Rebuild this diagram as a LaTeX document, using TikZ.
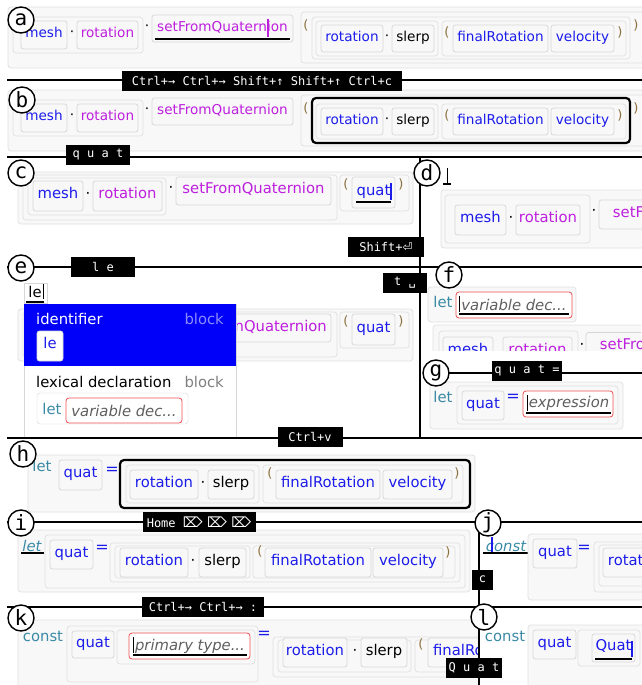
\documentclass[tikz,border=0pt]{standalone}
\usepackage{fontspec}
\setmainfont{DejaVu Sans}
\newfontfamily\keyfont{DejaVu Sans Mono}
\newfontfamily\symfont{DejaVu Sans}
\definecolor{idblue}{RGB}{28,28,235}
\definecolor{propmag}{RGB}{190,30,222}
\definecolor{kwteal}{RGB}{58,138,165}
\definecolor{parbrown}{RGB}{140,112,62}
\definecolor{tokline}{RGB}{214,214,214}
\definecolor{tokfill}{RGB}{248,248,248}
\definecolor{grpline}{RGB}{224,224,224}
\definecolor{phgrey}{RGB}{95,95,95}
\definecolor{holered}{RGB}{240,80,80}
\definecolor{popblue}{RGB}{0,0,250}
\definecolor{popdim}{RGB}{140,140,255}
\newcommand{\codeA}{\fontsize{13.6}{16}\selectfont}
\newcommand{\codeB}{\fontsize{14.8}{17}\selectfont}
\newcommand{\parfont}{\fontsize{13}{14}\selectfont}
\tikzset{
  tok/.style 2 args={draw=tokline, fill=tokfill, rounded corners=2.5, line width=.7, inner sep=0,
    minimum width=#1, minimum height=#2, text height=.75em, text depth=.22em},
  grp/.style={draw=grpline, fill=tokfill, rounded corners=3, line width=.7},
  hole/.style={draw=holered, fill=white, rounded corners=3, line width=.8},
  sel/.style={draw=black, fill=tokfill, line width=2.2, rounded corners=4},
  keylbl/.style={fill=black, text=white, font=\keyfont\fontsize{12}{14}\selectfont, inner sep=0, minimum height=20},
  stage/.style={circle, draw=black, fill=white, line width=1.4, minimum size=26, inner sep=0,
    font=\keyfont\fontsize{21}{21}\selectfont},
  divider/.style={line width=1.8},
  paren/.style={text=parbrown, font=\parfont, inner sep=0},
  midot/.style={inner sep=0},
  caretline/.style={line width=2},
  kw/.style={text=kwteal, inner sep=0},
  ph/.style={text=phgrey, font=\codeB\itshape, inner sep=0},
  eqsign/.style={text=idblue, inner sep=0, font=\fontsize{16}{17}\selectfont}
}
\begin{document}
\begin{tikzpicture}[x=1pt,y=-1pt]
\useasboundingbox[fill=white] (0,0) rectangle (642,685);

\begin{scope}[font=\codeA]
  \draw[grp] (8,7) rectangle (650,68);
  \draw[grp] (13,17) rectangle (143,53);
  \node[tok={46}{28}, text=idblue] (amesh) at (44,35) {mesh};
  \node[midot] (adota) at (72,34) {·};
  \node[tok={61}{28}, text=propmag] (arot) at (107.5,35) {rotation};
  \node[midot] (adotb) at (147,28) {·};
  \node[tok={141}{27}, text=propmag] (aset) at (222.5,28.5) {setFromQuaternion};
  \draw[caretline] (155,39) -- (290,39);
  \draw[propmag, line width=1.2] (268,19) -- (268,37);
  \draw[grp] (301,12) rectangle (650,63);
  \node[paren] (aopen) at (306,25) {(};
  \draw[grp] (312,17) rectangle (630,59);
  \draw[grp] (316,21) rectangle (438,56);
  \node[tok={62}{27}, text=idblue] (arotb) at (352,38.5) {rotation};
  \node[midot] (adotc) at (387,38) {·};
  \node[tok={42}{27}] (aslerp) at (413,38.5) {slerp};
  \draw[grp] (442,21) rectangle (626,56);
  \node[paren] (aopenb) at (447,32) {(};
  \node[tok={95}{27}, text=idblue] (afinal) at (500.5,38.5) {finalRotation};
  \node[tok={63}{27}, text=idblue] (avel) at (582.5,38.5) {velocity};
  \node[paren] (aclose) at (620,32) {)};
  \node[paren] (aclosb) at (636,25) {)};
\end{scope}

\begin{scope}[font=\codeA]
  \draw[grp] (8,90) rectangle (650,151);
  \draw[grp] (13,100) rectangle (143,136);
  \node[tok={46}{28}, text=idblue] (bmesh) at (44,118) {mesh};
  \node[midot] (bdota) at (72,117) {·};
  \node[tok={61}{28}, text=propmag] (brot) at (107.5,118) {rotation};
  \node[midot] (bdotb) at (147,111) {·};
  \node[tok={141}{27}, text=propmag] (bset) at (222.5,111.5) {setFromQuaternion};
  \draw[grp] (301,95) rectangle (650,146);
  \node[paren] (bopen) at (306,108) {(};
  \draw[sel] (312,98) rectangle (630,143);
  \draw[grp] (316,104) rectangle (438,139);
  \node[tok={62}{27}, text=idblue] (brotb) at (352,121.5) {rotation};
  \node[midot] (bdotc) at (387,121) {·};
  \node[tok={42}{27}] (bslerp) at (413,121.5) {slerp};
  \draw[grp] (442,104) rectangle (626,139);
  \node[paren] (bopenb) at (447,115) {(};
  \node[tok={95}{27}, text=idblue] (bfinal) at (500.5,121.5) {finalRotation};
  \node[tok={63}{27}, text=idblue] (bvel) at (582.5,121.5) {velocity};
  \node[paren] (bclose) at (620,115) {)};
  \node[paren] (bclosb) at (636,108) {)};
\end{scope}

\begin{scope}[font=\codeB]
  \draw[grp] (18,172) rectangle (413,224);
  \draw[grp] (23,175) rectangle (337,220);
  \draw[grp] (28,178) rectangle (166,215);
  \node[tok={50}{30}, text=idblue] (cmesh) at (58,196) {mesh};
  \node[midot] (cdota) at (88,195) {·};
  \node[tok={69}{30}, text=propmag] (crot) at (127.5,196) {rotation};
  \node[midot] (cdotb) at (171,189) {·};
  \node[tok={155}{28}, text=propmag] (cset) at (253.5,191) {setFromQuaternion};
  \draw[grp] (340,175) rectangle (409,211);
  \node[paren] (copen) at (346,184) {(};
  \node[tok={43}{31}, text=idblue] (cquat) at (373.5,192.5) {quat};
  \draw[caretline] (356,202) -- (391,202);
  \draw[idblue, line width=1.2] (391,183) -- (391,200);
  \node[paren] (cclose) at (401,184) {)};
\end{scope}

\begin{scope}[font=\codeB]
  \draw[line width=1] (447,168) -- (447,183);
  \draw[line width=2] (443,184) -- (451,184);
  \draw[grp] (441,190) rectangle (650,248);
  \draw[grp] (445,195) rectangle (590,243);
  \node[tok={51}{30}, text=idblue] (dmesh) at (480.5,220) {mesh};
  \node[midot] (ddota) at (511,219) {·};
  \node[tok={64}{30}, text=propmag] (drot) at (548,220) {rotation};
  \node[midot] (ddotb) at (594,212) {·};
  \node[tok={170}{29}, text=propmag] (dset) at (684,214.5) {setFromQuaternion};
\end{scope}

\begin{scope}[font=\codeB]
  \draw[grp] (18,309) rectangle (413,361);
  \draw[grp] (23,312) rectangle (337,357);
  \draw[draw=tokline, fill=tokfill, rounded corners=2.5, line width=.7] (176,314) rectangle (331,342);
  \node[anchor=east, text=propmag, inner sep=0] (eset) at (327,327) {nQuaternion};
  \draw[grp] (340,312) rectangle (409,348);
  \node[paren] (eopen) at (346,321) {(};
  \node[tok={43}{31}, text=idblue] (equat) at (373.5,329.5) {quat};
  \node[paren] (eclose) at (401,321) {)};
  \draw[draw=tokline, fill=white] (24,283) rectangle (47,303);
  \node[inner sep=0] (ele) at (35,292) {le};
  \draw[caretline] (26,302) -- (44,302);
  \draw[line width=.8] (43,284) -- (43,299);
  \draw[draw=tokline, fill=white] (24,304) rectangle (236,437);
  \fill[popblue] (24,304) rectangle (236,366);
  \node[anchor=west, text=white, inner sep=0] (eident) at (36,319) {identifier};
  \node[anchor=east, text=popdim, inner sep=0] (eblocka) at (224,319) {block};
  \node[tok={26}{30}, fill=white, text=idblue] (eletok) at (50,346) {le};
  \node[anchor=west, inner sep=0] (elex) at (36,382) {lexical declaration};
  \node[anchor=east, text=gray, inner sep=0] (eblockb) at (224,382) {block};
  \draw[draw=tokline, fill=white, rounded corners=3] (37,393) rectangle (188,424);
  \node[kw] (elet) at (52,409) {let};
  \draw[hole] (66,398) rectangle (182,423);
  \node[ph] (evar) at (124,411) {variable dec...};
\end{scope}

\begin{scope}[font=\codeB]
  \draw[grp] (428,287) rectangle (576,322);
  \node[kw] (flet) at (443,302) {let};
  \draw[hole] (456,292) rectangle (572,318);
  \node[ph] (fvar) at (514,305) {variable dec...};
  \draw[caretline] (459,314) -- (569,314);
  \draw[line width=.8] (459,296) -- (459,312);
  \begin{scope}
    \clip (421,320) rectangle (641,350);
    \draw[grp] (433,325) rectangle (650,400);
    \draw[grp] (439,331) rectangle (578,395);
    \node[tok={50}{30}, text=idblue] (fmesh) at (468,352) {mesh};
    \node[tok={69}{30}, text=propmag] (frot) at (537.5,352) {rotation};
    \node[midot] (fdot) at (582,346) {·};
    \node[tok={170}{29}, text=propmag] (fset) at (671,347) {setFromQuaternion};
  \end{scope}
\end{scope}

\begin{scope}[font=\codeB]
  \draw[grp] (430,382) rectangle (623,429);
  \node[kw] (glet) at (443,397) {let};
  \draw[grp] (457,386) rectangle (618,424);
  \node[tok={42}{29}, text=idblue] (gquat) at (483,405.5) {quat};
  \node[eqsign] (geq) at (513,398) {=};
  \draw[hole] (523,391) rectangle (613,417);
  \node[ph] (gexpr) at (569,403) {expression};
  \draw[caretline] (526,413) -- (611,413);
  \draw[line width=.8] (527,395) -- (527,411);
\end{scope}

\begin{scope}[font=\codeB]
  \draw[grp] (28,455) rectangle (475,512);
  \node[kw] (hlet) at (42,466) {let};
  \node[tok={43}{30}, text=idblue] (hquat) at (80.5,475) {quat};
  \node[eqsign] (heq) at (112,471) {=};
  \draw[sel] (120,460) rectangle (470,508);
  \draw[grp] (126,465) rectangle (259,503);
  \node[tok={68}{29}, text=idblue] (hrot) at (164,484.5) {rotation};
  \node[midot] (hdot) at (203,484) {·};
  \node[tok={46}{29}] (hslerp) at (231,484.5) {slerp};
  \draw[grp] (263,465) rectangle (463,503);
  \node[paren] (hopen) at (270,473) {(};
  \node[tok={104}{29}, text=idblue] (hfinal) at (328,484.5) {finalRotation};
  \node[tok={69}{29}, text=idblue] (hvel) at (417.5,484.5) {velocity};
  \node[paren] (hclose) at (457,473) {)};
\end{scope}

\begin{scope}[font=\codeB]
  \draw[grp] (18,530) rectangle (470,592);
  \draw[grp] (45,535) rectangle (465,588);
  \node[kw, font=\codeB\itshape] (ilet) at (32,546) {let};
  \draw[caretline] (21,553) -- (44,553);
  \node[tok={43}{29}, text=idblue] (iquat) at (71.5,554.5) {quat};
  \node[eqsign] (ieq) at (102,549) {=};
  \draw[grp] (110,543) rectangle (460,582);
  \draw[grp] (115,546) rectangle (250,578);
  \node[tok={68}{29}, text=idblue] (irot) at (154,562.5) {rotation};
  \node[midot] (idot) at (193,562) {·};
  \node[tok={47}{29}] (islerp) at (222.5,562.5) {slerp};
  \draw[grp] (253,546) rectangle (455,578);
  \node[paren] (iopen) at (260,551) {(};
  \node[tok={106}{29}, text=idblue] (ifinal) at (318,562.5) {finalRotation};
  \node[tok={70}{29}, text=idblue] (ivel) at (408,562.5) {velocity};
  \node[paren] (iclose) at (448,552) {)};
\end{scope}

\begin{scope}[font=\codeB]
  \node[kw, font=\codeB\itshape] (jconst) at (506,546) {const};
  \draw[caretline] (483,553) -- (528,553);
  \draw[idblue, line width=1.2] (492,537) -- (492,552);
  \draw[grp] (528,534) rectangle (650,600);
  \node[tok={44}{29}, text=idblue] (jquat) at (555,553.5) {quat};
  \node[eqsign] (jeq) at (584,549) {=};
  \draw[grp] (594,542) rectangle (660,592);
  \draw[grp] (599,545) rectangle (660,586);
  \node[tok={68}{29}, text=idblue] (jrot) at (637,562.5) {rotation};
\end{scope}

\begin{scope}[font=\codeB]
  \clip (8,609) rectangle (478,685);
  \draw[grp] (18,620) rectangle (490,700);
  \node[kw] (kconst) at (43,636) {const};
  \draw[grp] (67,626) rectangle (258,682);
  \node[tok={42}{27}, text=idblue] (kquat) at (93,644.5) {quat};
  \node[inner sep=0] (kcolon) at (124,644) {:};
  \draw[grp] (117,630) rectangle (255,664);
  \draw[hole] (129,633) rectangle (250,659);
  \node[ph] (ktype) at (190,646) {primary type...};
  \draw[caretline] (133,655) -- (247,655);
  \draw[line width=.8] (133,637) -- (133,653);
  \node[eqsign] (keq) at (264,635) {=};
  \draw[grp] (273,637) rectangle (490,677);
  \draw[grp] (278,640) rectangle (411,672);
  \node[tok={64}{29}, text=idblue] (krot) at (315,652.5) {rotation};
  \node[midot] (kdot) at (355,652) {·};
  \node[tok={46}{29}] (kslerp) at (384,652.5) {slerp};
  \draw[grp] (415,640) rectangle (500,672);
  \node[paren] (kopen) at (421,644) {(};
  \node[tok={104}{29}, text=idblue] (kfinal) at (480,652.5) {finalRotation};
\end{scope}

\begin{scope}[font=\codeB]
  \node[kw] (lconst) at (505,636) {const};
  \draw[grp] (528,625) rectangle (650,700);
  \node[tok={43}{29}, text=idblue] (lquat) at (554.5,644.5) {quat};
  \node[inner sep=0] (lcolon) at (586,645) {:};
  \draw[grp] (578,630) rectangle (640,666);
  \node[tok={43}{28}, text=idblue] (lQuat) at (613.5,648) {Quat};
  \draw[caretline] (595,659) -- (632,659);
  \draw[idblue, line width=1.2] (632,641) -- (632,657);
\end{scope}

\draw[divider] (7,80) -- (642,80);
\draw[divider] (7,157) -- (642,157);
\draw[divider] (420,157) -- (420,438);
\draw[divider] (7,267) -- (642,267);
\draw[divider] (436,373) -- (642,373);
\draw[divider] (7,438) -- (642,438);
\draw[divider] (7,522) -- (642,522);
\draw[divider] (479,522) -- (479,685);
\draw[divider] (7,607) -- (642,607);

\node[keylbl, minimum width=280] (keyab) at (262,81) {Ctrl+→ Ctrl+→ Shift+↑ Shift+↑ Ctrl+c};
\node[keylbl, minimum width=64] (keybc) at (98,155) {q u a t};
\node[keylbl, minimum width=76] (keycd) at (386,247) {Shift+{\symfont ⏎}};
\node[keylbl, minimum width=64] (keyde) at (103,267) {l e};
\node[keylbl, minimum width=44] (keyef) at (405,283) {t ␣};
\node[keylbl, minimum width=70] (keyfg) at (527,371) {q u a t =};
\node[keylbl, minimum width=65] (keygh) at (310,437) {Ctrl+v};
\node[keylbl, minimum width=113] (keyhi) at (199,522) {Home {\symfont\fontsize{14}{14}\selectfont ⌦ ⌦ ⌦}};
\node[keylbl, minimum width=21] (keyij) at (482.5,579.5) {c};
\node[keylbl, minimum width=122] (keyjk) at (203,607) {Ctrl+→ Ctrl+→ :};
\node[keylbl, minimum width=56] (keykl) at (474,667.5) {Q u a t};

\node[stage] (sa) at (21,20) {a};
\node[stage] (sb) at (22,100) {b};
\node[stage] (sc) at (21,173) {c};
\node[stage] (sd) at (427,173) {d};
\node[stage] (se) at (21,268) {e};
\node[stage] (sf) at (449,275) {f};
\node[stage] (sg) at (436,373) {g};
\node[stage] (sh) at (23,454) {h};
\node[stage] (si) at (21,523) {i};
\node[stage] (sj) at (488,523) {j};
\node[stage] (sk) at (21,618) {k};
\node[stage] (sl) at (484,617) {l};
\end{tikzpicture}
\end{document}
